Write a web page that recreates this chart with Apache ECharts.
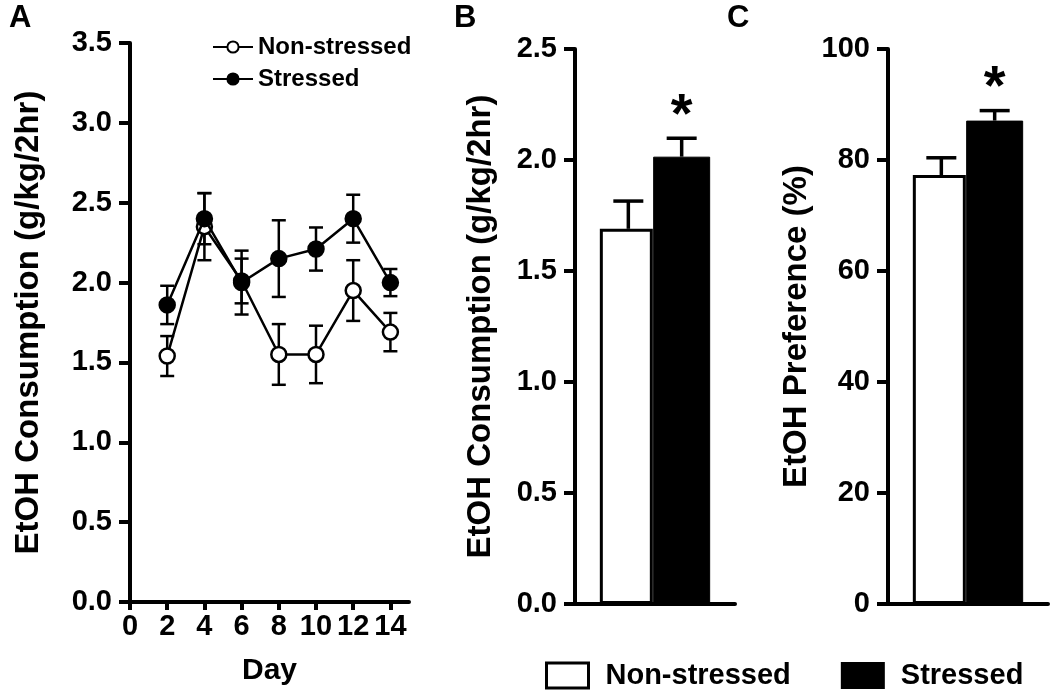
<!DOCTYPE html>
<html>
<head>
<meta charset="utf-8">
<script src="https://cdn.jsdelivr.net/npm/echarts@6/dist/echarts.min.js"></script>
<style>html,body{margin:0;padding:0;background:#fff}#c{width:1050px;height:691px}</style>
</head>
<body>
<div id="c"></div>
<script>
// ---- data ----
const days = [2, 4, 6, 8, 10, 12, 14];
const dayTicks = [0, 2, 4, 6, 8, 10, 12, 14];
const nonMean = [1.54, 2.35, 2.01, 1.55, 1.55, 1.95, 1.69];
const nonSem  = [0.125, 0.21, 0.14, 0.19, 0.18, 0.19, 0.12];
const strMean = [1.86, 2.40, 2.00, 2.15, 2.21, 2.40, 2.00];
const strSem  = [0.12, 0.16, 0.20, 0.24, 0.135, 0.15, 0.085];

const groups = ['Non-stressed', 'Stressed'];
const groupPos = [1, 2];
const consMean = [1.69, 2.015];
const consSem  = [0.125, 0.083];
const prefMean = [77.3, 87.1];
const prefSem  = [3.1, 1.8];
const sig = ['', '*'];

// ---- styling ----
const FONT = '"Liberation Sans", Arial, Helvetica, sans-serif';
const BAR_SUFFIX = ' (bar)';

function yAxis(gi, max, interval, dec, name, gap) {
  return {
    type: 'value', gridIndex: gi, min: 0, max: max, interval: interval,
    name: name, nameLocation: 'middle', nameGap: gap,
    nameTextStyle: { fontFamily: FONT, fontWeight: 'bold', fontSize: 33, color: '#000' },
    axisLine: { show: true, lineStyle: { color: '#000', width: 4 } },
    axisTick: { show: true, inside: false, length: 11, lineStyle: { color: '#000', width: 4 } },
    axisLabel: { margin: 18, fontFamily: FONT, fontWeight: 'bold', fontSize: 29, color: '#000',
                 formatter: v => v.toFixed(dec) },
    splitLine: { show: false }
  };
}

function barX(gi) {
  return {
    type: 'value', gridIndex: gi, min: 0, max: 3,
    axisLine: { show: true, onZero: false, lineStyle: { color: '#000', width: 4 } },
    axisTick: { show: false }, axisLabel: { show: false }, splitLine: { show: false }
  };
}

function errLineRender(params, api) {
  const x = api.value(0), lo = api.value(1), hi = api.value(2);
  const a = api.coord([x, lo]), b = api.coord([x, hi]);
  const w = 7;
  const st = { stroke: '#000', lineWidth: 2.5 };
  return { type: 'group', children: [
    { type: 'line', shape: { x1: a[0], y1: a[1], x2: b[0], y2: b[1] }, style: st },
    { type: 'line', shape: { x1: a[0] - w, y1: a[1], x2: a[0] + w, y2: a[1] }, style: st },
    { type: 'line', shape: { x1: b[0] - w, y1: b[1], x2: b[0] + w, y2: b[1] }, style: st }
  ]};
}

function errBarRender(params, api) {
  const x = api.value(0), m = api.value(1), hi = api.value(2);
  const a = api.coord([x, m]), b = api.coord([x, hi]);
  const w = 15;
  const st = { stroke: '#000', lineWidth: 3.5 };
  const ch = [
    { type: 'line', shape: { x1: a[0], y1: a[1], x2: b[0], y2: b[1] }, style: st },
    { type: 'line', shape: { x1: b[0] - w, y1: b[1], x2: b[0] + w, y2: b[1] }, style: st }
  ];
  const s = sig[params.dataIndex];
  if (s) {
    ch.push({ type: 'text', x: b[0], y: b[1] - 22,
      style: { text: s, fill: '#000', font: 'bold 56px ' + FONT, align: 'center', verticalAlign: 'middle' } });
  }
  return { type: 'group', children: ch };
}

const zip = (xs, ys) => xs.map((x, i) => [x, ys[i]]);
const errData = (xs, m, s) => xs.map((x, i) => [x, m[i] - s[i], m[i] + s[i]]);
const upData = (xs, m, s) => xs.map((x, i) => [x, m[i], m[i] + s[i]]);

const option = {
  animation: false,
  backgroundColor: '#fff',
  title: [
    { text: 'A', left: 4, top: -2, textStyle: { fontFamily: FONT, fontWeight: 'bold', fontSize: 31, color: '#000' } },
    { text: 'B', left: 449, top: -2, textStyle: { fontFamily: FONT, fontWeight: 'bold', fontSize: 31, color: '#000' } },
    { text: 'C', left: 722, top: -2, textStyle: { fontFamily: FONT, fontWeight: 'bold', fontSize: 31, color: '#000' } }
  ],
  legend: [
    { data: ['Non-stressed', 'Stressed'], orient: 'vertical', left: 207, top: 30,
      itemWidth: 40, itemHeight: 14, itemGap: 8, selectedMode: false,
      textStyle: { fontFamily: FONT, fontWeight: 'bold', fontSize: 24, color: '#000' } },
    { data: [
        { name: 'Non-stressed' + BAR_SUFFIX, icon: 'rect', itemStyle: { color: '#fff', borderColor: '#000', borderWidth: 3 } },
        { name: 'Stressed' + BAR_SUFFIX, icon: 'rect', itemStyle: { color: '#000' } }
      ],
      orient: 'horizontal', left: 540, top: 656, itemWidth: 42, itemHeight: 25, itemGap: 50, selectedMode: false,
      formatter: n => n.replace(BAR_SUFFIX, ''),
      textStyle: { fontFamily: FONT, fontWeight: 'bold', fontSize: 29, color: '#000', padding: [0, 0, 0, 12] } }
  ],
  grid: [
    { left: 130, top: 43, width: 279, height: 559 },
    { left: 575, top: 49, width: 160, height: 555 },
    { left: 888, top: 49, width: 160, height: 555 }
  ],
  xAxis: [
    { type: 'value', gridIndex: 0, min: 0, max: 15, interval: 2,
      name: 'Day', nameLocation: 'middle', nameGap: 54,
      nameTextStyle: { fontFamily: FONT, fontWeight: 'bold', fontSize: 30, color: '#000' },
      axisLine: { show: true, onZero: false, lineStyle: { color: '#000', width: 4 } },
      axisTick: { show: true, length: 8, customValues: dayTicks, lineStyle: { color: '#000', width: 4 } },
      axisLabel: { margin: 10, customValues: dayTicks, fontFamily: FONT, fontWeight: 'bold', fontSize: 29, color: '#000' },
      splitLine: { show: false } },
    barX(1), barX(2)
  ],
  yAxis: [
    yAxis(0, 3.5, 0.5, 1, 'EtOH Consumption (g/kg/2hr)', 85),
    yAxis(1, 2.5, 0.5, 1, 'EtOH Consumption (g/kg/2hr)', 78),
    yAxis(2, 100, 20, 0, 'EtOH Preference (%)', 75)
  ],
  series: [
    { type: 'custom', name: 'errNon', xAxisIndex: 0, yAxisIndex: 0, z: 1,
      renderItem: errLineRender, data: errData(days, nonMean, nonSem) },
    { type: 'custom', name: 'errStr', xAxisIndex: 0, yAxisIndex: 0, z: 1,
      renderItem: errLineRender, data: errData(days, strMean, strSem) },
    { type: 'line', name: 'Non-stressed', xAxisIndex: 0, yAxisIndex: 0, z: 3,
      data: zip(days, nonMean), symbol: 'circle', symbolSize: 15,
      lineStyle: { color: '#000', width: 2.5 },
      itemStyle: { color: '#fff', borderColor: '#000', borderWidth: 2.5 } },
    { type: 'line', name: 'Stressed', xAxisIndex: 0, yAxisIndex: 0, z: 4,
      data: zip(days, strMean), symbol: 'circle', symbolSize: 15,
      lineStyle: { color: '#000', width: 2.5 },
      itemStyle: { color: '#000', borderColor: '#000', borderWidth: 2.5 } },

    { type: 'bar', name: groups[0] + BAR_SUFFIX, xAxisIndex: 1, yAxisIndex: 1, barWidth: 53, barGap: '-100%',
      data: [[groupPos[0], consMean[0]]], itemStyle: { color: '#fff', borderColor: '#000', borderWidth: 3 } },
    { type: 'bar', name: groups[1] + BAR_SUFFIX, xAxisIndex: 1, yAxisIndex: 1, barWidth: 57, barGap: '-100%',
      data: [[groupPos[1], consMean[1]]], itemStyle: { color: '#000', borderColor: '#000', borderWidth: 1 } },
    { type: 'custom', name: 'errB', xAxisIndex: 1, yAxisIndex: 1, z: 5,
      renderItem: errBarRender, data: upData(groupPos, consMean, consSem) },

    { type: 'bar', name: groups[0] + BAR_SUFFIX, xAxisIndex: 2, yAxisIndex: 2, barWidth: 53, barGap: '-100%',
      data: [[groupPos[0], prefMean[0]]], itemStyle: { color: '#fff', borderColor: '#000', borderWidth: 3 } },
    { type: 'bar', name: groups[1] + BAR_SUFFIX, xAxisIndex: 2, yAxisIndex: 2, barWidth: 57, barGap: '-100%',
      data: [[groupPos[1], prefMean[1]]], itemStyle: { color: '#000', borderColor: '#000', borderWidth: 1 } },
    { type: 'custom', name: 'errC', xAxisIndex: 2, yAxisIndex: 2, z: 5,
      renderItem: errBarRender, data: upData(groupPos, prefMean, prefSem) }
  ]
};

const chart = echarts.init(document.getElementById('c'), null, { renderer: 'canvas' });
chart.setOption(option);
</script>
</body>
</html>
